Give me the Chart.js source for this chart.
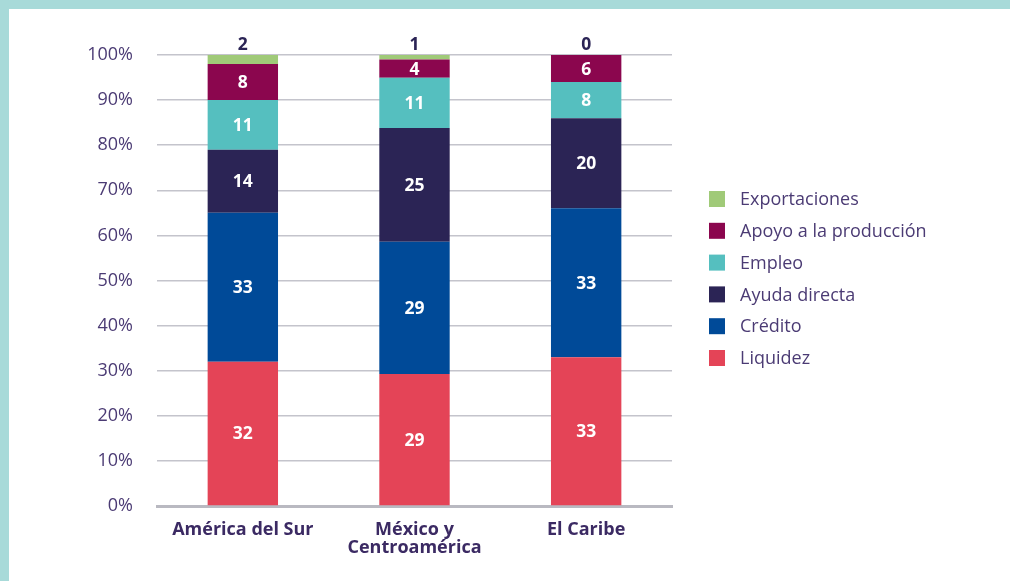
<!DOCTYPE html>
<html lang="es">
<head>
<meta charset="utf-8">
<script src="https://cdn.jsdelivr.net/npm/chart.js@4.4.1/dist/chart.umd.min.js"></script>
<style>
    html, body { margin: 0; padding: 0; background: #a8dad9; }
    #frame {
        position: absolute;
        left: 9px;
        top: 9px;
        width: 1001px;
        height: 572px;
        background: #ffffff;
    }
    #chart { display: block; }
</style>
</head>
<body>
<div id="frame"><canvas id="chart" width="1001" height="572"></canvas></div>
<script>
// Datos: número de medidas por región (las barras se muestran al 100%)
const regiones = [['América del Sur'], ['México y', 'Centroamérica'], ['El Caribe']];
const liquidez = [32, 29, 33];
const credito = [33, 29, 33];
const ayudaDirecta = [14, 25, 20];
const empleo = [11, 11, 8];
const apoyoProduccion = [8, 4, 6];
const exportaciones = [2, 1, 0];
const yTicks = ['0%', '10%', '20%', '30%', '40%', '50%', '60%', '70%', '80%', '90%', '100%'];

const series = [
    { label: 'Liquidez', counts: liquidez, color: '#e44457' },
    { label: 'Crédito', counts: credito, color: '#004a98' },
    { label: 'Ayuda directa', counts: ayudaDirecta, color: '#2b2455' },
    { label: 'Empleo', counts: empleo, color: '#55bfbf' },
    { label: 'Apoyo a la producción', counts: apoyoProduccion, color: '#8b064e' },
    { label: 'Exportaciones', counts: exportaciones, color: '#a0ca78' }
];

// Totales por región para pasar a porcentajes
const totals = regiones.map((_, i) => series.reduce((s, d) => s + d.counts[i], 0));

const textPurple = '#4b3b74';
const darkPurple = '#3b2a63';

// Etiquetas de valor dentro de cada segmento
const valueLabels = {
    id: 'valueLabels',
    afterDatasetsDraw(chart) {
        const ctx = chart.ctx;
        ctx.save();
        ctx.font = 'bold 17.5px "Open Sans"';
        ctx.textAlign = 'center';
        chart.data.datasets.forEach((ds, di) => {
            const meta = chart.getDatasetMeta(di);
            meta.data.forEach((bar, i) => {
                const value = ds.counts[i];
                if (di === chart.data.datasets.length - 1) {
                    // Exportaciones: encima de la barra
                    ctx.fillStyle = '#2b2455';
                    ctx.textBaseline = 'bottom';
                    ctx.fillText(String(value), bar.x, bar.y - 1);
                } else {
                    ctx.fillStyle = '#ffffff';
                    ctx.textBaseline = 'middle';
                    ctx.fillText(String(value), bar.x, (bar.y + bar.base) / 2 + 1);
                }
            });
        });
        ctx.restore();
    }
};

// Leyenda a la derecha
const sideLegend = {
    id: 'sideLegend',
    afterDraw(chart) {
        const ctx = chart.ctx;
        const area = chart.chartArea;
        const x = area.right + 37;
        let y = area.top + 144;
        ctx.save();
        ctx.font = '18px "Open Sans"';
        ctx.textBaseline = 'middle';
        ctx.textAlign = 'left';
        chart.data.datasets.slice().reverse().forEach(ds => {
            ctx.fillStyle = ds.backgroundColor;
            ctx.fillRect(x, y - 8, 16, 16);
            ctx.fillStyle = textPurple;
            ctx.fillText(ds.label, x + 31, y + 1);
            y += 31.8;
        });
        ctx.restore();
    }
};

const ctx = document.getElementById('chart').getContext('2d');
new Chart(ctx, {
    type: 'bar',
    data: {
        labels: regiones,
        datasets: series.map(s => ({
            label: s.label,
            counts: s.counts,
            data: s.counts.map((v, i) => v / totals[i] * 100),
            backgroundColor: s.color,
            borderWidth: 0,
            categoryPercentage: 1,
            barPercentage: 0.41
        }))
    },
    options: {
        responsive: false,
        animation: false,
        layout: { padding: { left: 0, right: 338, top: 46, bottom: 0 } },
        plugins: {
            legend: { display: false },
            tooltip: { enabled: false }
        },
        scales: {
            x: {
                stacked: true,
                grid: { display: false, drawTicks: false },
                border: { display: true, color: '#b9b9c1', width: 3 },
                ticks: {
                    padding: 14,
                    color: darkPurple,
                    font: { family: '"Open Sans"', size: 18, weight: 'bold', lineHeight: 1.05 },
                    maxRotation: 0
                },
                afterFit(scale) { scale.height = 75; }
            },
            y: {
                stacked: true,
                min: 0,
                max: 100,
                grid: { color: '#c4c4cc', lineWidth: 1.5, drawTicks: false },
                border: { display: false },
                ticks: {
                    stepSize: 10,
                    padding: 24,
                    color: textPurple,
                    font: { family: '"Open Sans"', size: 18 },
                    callback: (v, i) => yTicks[i]
                },
                afterFit(scale) { scale.width = 148; }
            }
        }
    },
    plugins: [valueLabels, sideLegend]
});
</script>
</body>
</html>
